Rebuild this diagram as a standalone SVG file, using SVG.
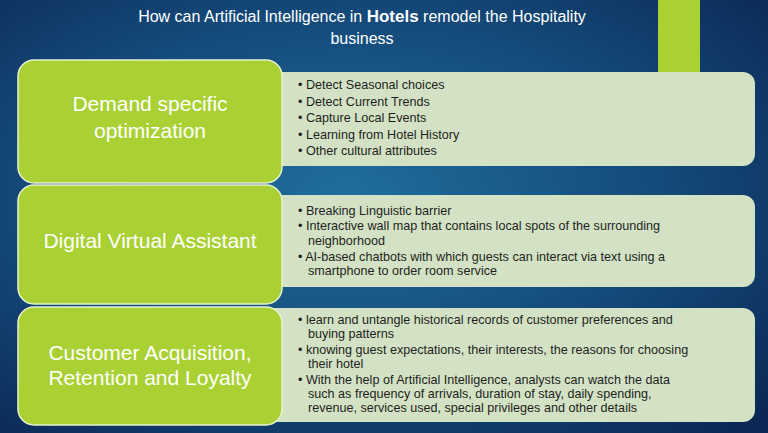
<svg xmlns="http://www.w3.org/2000/svg" width="768" height="433" viewBox="0 0 768 433">
<defs>
<radialGradient id="bg" cx="0.45" cy="0.45" r="0.75">
<stop offset="0" stop-color="#1f6e9c"/>
<stop offset="0.55" stop-color="#144a7a"/>
<stop offset="1" stop-color="#0b2753"/>
</radialGradient>
</defs>
<style>
.l{fill:#a9d134;stroke:#e8f2d0;stroke-width:1.5}
.r{fill:#d3e2c4}
.lt{font-family:"Liberation Sans",Arial,sans-serif;font-size:21px;fill:#ffffff;text-anchor:middle}
.bt{font-family:"Liberation Sans",Arial,sans-serif;font-size:12.6px;fill:#1e1e1e}
.tt{font-family:"Liberation Sans",Arial,sans-serif;font-size:16px;fill:#ffffff;text-anchor:middle}
</style>
<rect width="768" height="433" fill="url(#bg)"/>
<rect x="658" y="0" width="42" height="72" fill="#a9d134"/>
<text class="tt" x="362" y="22">How can Artificial Intelligence in <tspan font-weight="bold" font-size="17">Hotels</tspan> remodel the Hospitality</text>
<text class="tt" x="362" y="44">business</text>
<g id="row1">
<rect class="r" x="262" y="72" width="493" height="94" rx="12"/>
<rect class="l" x="18" y="60" width="264" height="123" rx="16"/>
<text class="lt" x="150" y="111">Demand specific</text>
<text class="lt" x="150" y="138">optimization</text>
<text class="bt"><tspan x="298" y="89">• Detect Seasonal choices</tspan><tspan x="298" y="105.5">• Detect Current Trends</tspan><tspan x="298" y="122">• Capture Local Events</tspan><tspan x="298" y="138.5">• Learning from Hotel History</tspan><tspan x="298" y="155">• Other cultural attributes</tspan></text>
</g>
<g id="row2">
<rect class="r" x="262" y="195" width="493" height="92" rx="12"/>
<rect class="l" x="18" y="185" width="264" height="119" rx="16"/>
<text class="lt" x="150" y="248">Digital Virtual Assistant</text>
<text class="bt"><tspan x="298" y="215">• Breaking Linguistic barrier</tspan><tspan x="298" y="230">• Interactive wall map that contains local spots of the surrounding</tspan><tspan x="308" y="245">neighborhood</tspan><tspan x="298" y="261">• AI-based chatbots with which guests can interact via text using a</tspan><tspan x="308" y="275">smartphone to order room service</tspan></text>
</g>
<g id="row3">
<rect class="r" x="262" y="308" width="493" height="114" rx="12"/>
<rect class="l" x="18" y="307" width="264" height="118" rx="16"/>
<text class="lt" x="150" y="360">Customer Acquisition,</text>
<text class="lt" x="150" y="385">Retention and Loyalty</text>
<text class="bt"><tspan x="298" y="324">• learn and untangle historical records of customer preferences and</tspan><tspan x="308" y="338">buying patterns</tspan><tspan x="298" y="354">• knowing guest expectations, their interests, the reasons for choosing</tspan><tspan x="308" y="368">their hotel</tspan><tspan x="298" y="384">• With the help of Artificial Intelligence, analysts can watch the data</tspan><tspan x="308" y="398">such as frequency of arrivals, duration of stay, daily spending,</tspan><tspan x="308" y="412">revenue, services used, special privileges and other details</tspan></text>
</g>
</svg>
